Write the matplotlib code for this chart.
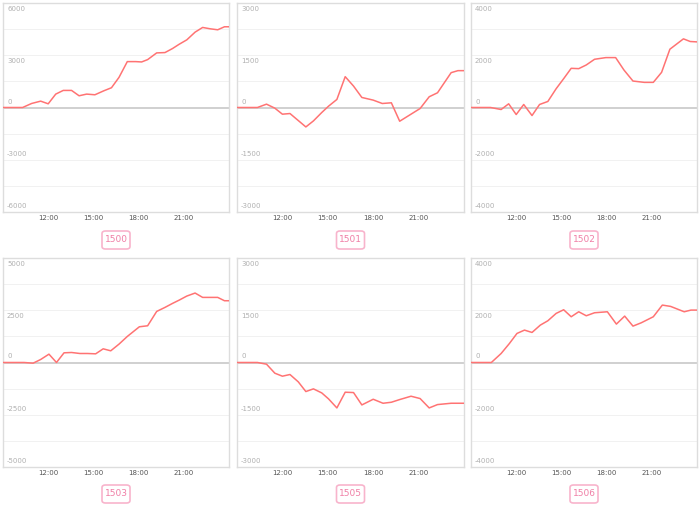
import matplotlib
matplotlib.use("Agg")
import matplotlib.pyplot as plt
from matplotlib.patches import FancyBboxPatch
from matplotlib.transforms import offset_copy

# === DATA (hours of day, value) ===
names = ["1500", "1501", "1502", "1503", "1505", "1506"]
limits = [6000, 3000, 4000, 5000, 3000, 4000]

t_1500 = [9.0, 10.3, 10.9, 11.5, 12.0, 12.5, 13.0, 13.55, 14.05, 14.55, 15.1, 15.7, 16.2, 16.7,
          17.25, 17.8, 18.2, 18.6, 19.2, 19.75, 20.25, 20.7, 21.2, 21.75, 22.25, 22.75, 23.25, 23.7, 24.0]
v_1500 = [0, 0, 231, 365, 212, 769, 981, 981, 673, 769, 731, 962, 1135, 1731,
          2635, 2635, 2615, 2750, 3135, 3154, 3385, 3635, 3885, 4327, 4596, 4519, 4462, 4635, 4635]

t_1501 = [9.0, 10.35, 10.95, 11.5, 12.0, 12.5, 13.55, 14.05, 14.6, 15.05, 15.6, 16.15, 16.7, 17.25,
          18.0, 18.6, 19.2, 19.75, 21.1, 21.7, 22.25, 23.15, 23.6, 24.0]
v_1501 = [0, 0, 96, -19, -192, -173, -558, -385, -144, 38, 231, 885, 615, 288,
          212, 115, 135, -394, -29, 308, 423, 1000, 1058, 1058]

t_1502 = [9.0, 10.3, 11.0, 11.5, 12.0, 12.5, 13.05, 13.55, 14.1, 14.65, 15.15, 15.65, 16.15, 16.65,
          17.2, 17.95, 18.6, 19.15, 19.75, 20.5, 21.1, 21.65, 22.2, 23.1, 23.55, 23.95]
v_1502 = [0, 0, -77, 141, -269, 115, -308, 115, 231, 718, 1103, 1500, 1487, 1628,
          1846, 1910, 1910, 1436, 1013, 962, 962, 1346, 2231, 2628, 2526, 2513]

t_1503 = [9.0, 10.4, 11.0, 11.5, 12.05, 12.55, 13.05, 13.55, 14.1, 14.6, 15.15, 15.65, 16.15, 16.7,
          17.25, 18.05, 18.6, 19.2, 19.75, 20.25, 20.7, 21.2, 21.75, 22.25, 22.75, 23.25, 23.7, 24.0]
v_1503 = [0, 0, -32, 144, 399, 0, 463, 479, 431, 431, 415, 655, 559, 879,
          1246, 1709, 1757, 2444, 2636, 2827, 2987, 3179, 3323, 3115, 3115, 3115, 2955, 2955]

t_1505 = [9.0, 10.35, 10.95, 11.5, 12.0, 12.5, 13.05, 13.55, 14.05, 14.6, 15.05, 15.6, 16.15, 16.7,
          17.25, 18.0, 18.65, 19.2, 19.75, 20.5, 21.1, 21.7, 22.25, 23.15, 24.0]
v_1505 = [0, 0, -48, -307, -393, -345, -556, -834, -757, -873, -1045, -1304, -853, -863,
          -1218, -1055, -1170, -1141, -1064, -968, -1035, -1304, -1208, -1170, -1170]

t_1506 = [9.0, 10.35, 11.0, 11.55, 12.05, 12.55, 13.05, 13.6, 14.1, 14.65, 15.15, 15.65, 16.15, 16.65,
          17.2, 18.05, 18.65, 19.2, 19.75, 20.3, 21.1, 21.7, 22.25, 23.15, 23.6, 23.95]
v_1506 = [0, 0, 345, 728, 1112, 1240, 1150, 1431, 1597, 1879, 2019, 1751, 1942, 1789,
          1904, 1942, 1470, 1776, 1393, 1520, 1751, 2198, 2147, 1942, 2006, 2006]

times = [t_1500, t_1501, t_1502, t_1503, t_1505, t_1506]
values = [v_1500, v_1501, v_1502, v_1503, v_1505, v_1506]

xtick_pos = [12, 15, 18, 21]
xtick_labels = ["12:00", "15:00", "18:00", "21:00"]

# === LAYOUT (pixels) ===
W, H = 700, 509
col_x = [(3, 229), (237, 464), (471, 697)]
row_y = [(3, 212), (258, 467)]
btn_y = [240, 494]

line_color = "#ff7373"
pink = "#f07fa6"

fig = plt.figure(figsize=(W / 100, H / 100), dpi=100)

for i, name in enumerate(names):
    r, c = divmod(i, 3)
    x0, x1 = col_x[c]
    y0, y1 = row_y[r]
    ax = fig.add_axes([x0 / W, (H - y1) / H, (x1 - x0) / W, (y1 - y0) / H])
    lim = limits[i]

    ax.set_xlim(9, 24)
    ax.set_ylim(-lim, lim)

    # faint grid every quarter of the half-range
    for k in range(-3, 4):
        if k == 0:
            continue
        ax.axhline(k * lim / 4, color="#f1f1f1", lw=0.7, zorder=0)
    ax.axhline(0, color="#c8c8c8", lw=1.2, zorder=1)

    ax.plot(times[i], values[i], color=line_color, lw=1.1, zorder=3)

    # y labels sit inside the plot
    for val in [lim, lim / 2, 0, -lim / 2, -lim]:
        dy = -6 if val > 0 else 6
        tr = offset_copy(ax.get_yaxis_transform(), fig=fig, x=4, y=dy, units="dots")
        ax.text(0, val, f"{int(val)}", transform=tr, ha="left", va="center",
                fontsize=5, color="#b0b0b0")

    ax.set_yticks([])
    ax.set_xticks(xtick_pos)
    ax.set_xticklabels(xtick_labels, fontsize=5, color="#555555")
    ax.tick_params(axis="x", length=0, pad=2.5)
    for sp in ax.spines.values():
        sp.set_color("#dddddd")
        sp.set_linewidth(1.0)

    # button under the panel
    cx = (x0 + x1) / 2
    cy = btn_y[r]
    bw, bh = 28, 18
    box = FancyBboxPatch(((cx - bw / 2) / W, (H - cy - bh / 2) / H), bw / W, bh / H,
                         boxstyle="round,pad=0,rounding_size=0.005",
                         transform=fig.transFigure, facecolor="white",
                         edgecolor="#f8b4cc", lw=1.2)
    fig.patches.append(box)
    fig.text(cx / W, (H - cy) / H, name, ha="center", va="center",
             fontsize=6.5, color=pink)

fig.savefig("out.png", dpi=100)
